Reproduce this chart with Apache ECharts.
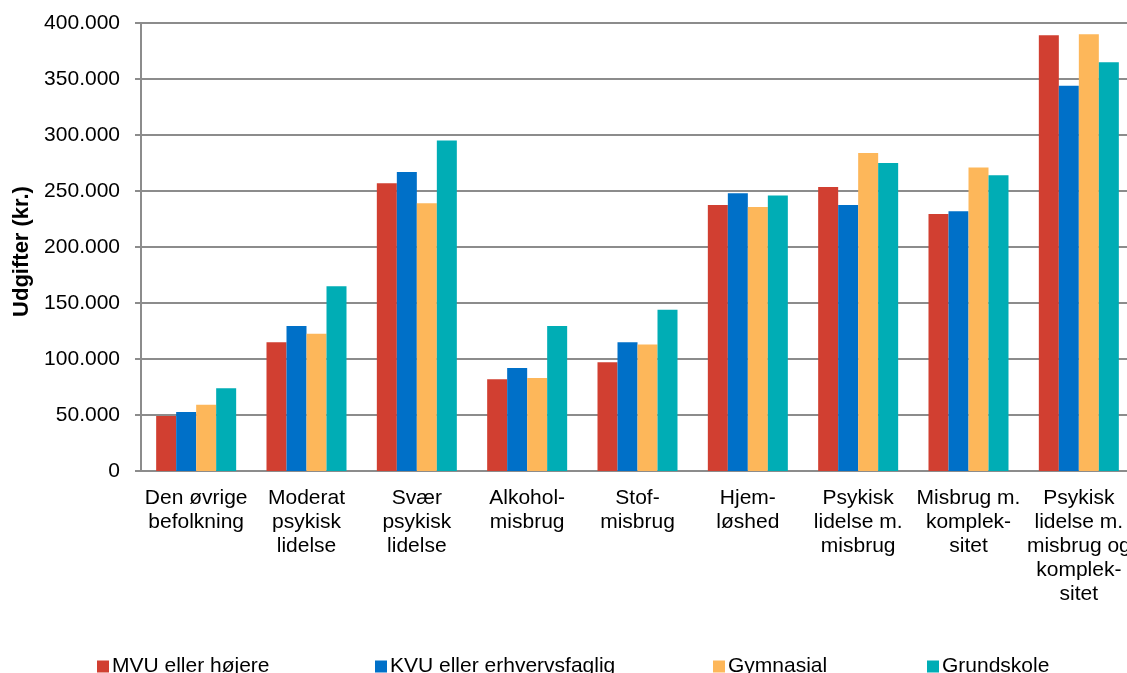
<!DOCTYPE html>
<html>
<head>
<meta charset="utf-8">
<script src="https://cdn.jsdelivr.net/npm/echarts@6/dist/echarts.min.js"></script>
<style>html,body{margin:0;padding:0;background:#fff;overflow:hidden}#c{width:1140px;height:673px}</style>
</head>
<body>
<div id="c"></div>
<script>
var categories = ["Den øvrige\nbefolkning","Moderat\npsykisk\nlidelse","Svær\npsykisk\nlidelse","Alkohol-\nmisbrug","Stof-\nmisbrug","Hjem-\nløshed","Psykisk\nlidelse m.\nmisbrug","Misbrug m.\nkomplek-\nsitet","Psykisk\nlidelse m.\nmisbrug og\nkomplek-\nsitet"];
var seriesNames = ["MVU eller højere","KVU eller erhvervsfaglig","Gymnasial","Grundskole"];
var mvu = [49000,115000,257000,82000,97000,237500,253500,229500,389000];
var kvu = [52700,129500,267000,92000,115000,248000,237500,232000,344000];
var gym = [59200,122500,239000,83000,113000,235700,284000,271000,390000];
var grund = [73800,165000,295000,129500,144000,246000,275000,264000,365000];
var yTicks = {min:0, max:400000, interval:50000};
var colors = ["#D13F31","#0070C8","#FDB75A","#00ADB5"];
var values = [mvu,kvu,gym,grund];

var chart = echarts.init(document.getElementById('c'));
var font = "'Liberation Sans', Arial, sans-serif";
var legendLefts = [92,370,708,922];
var legends = seriesNames.map(function(n,i){
  return {data:[n], left:legendLefts[i], top:651, itemWidth:12, itemHeight:12, itemGap:4,
    icon:'rect', textStyle:{fontFamily:font, fontSize:21, color:'#000', padding:[0,0,0,-2]}};
});
chart.setOption({
  animation:false,
  color:colors,
  grid:{left:141, width:993, top:23, bottom:202, containLabel:false},
  legend:legends,
  xAxis:{type:'category', data:categories,
    axisLine:{lineStyle:{color:'#8c8c8c', width:2}},
    axisTick:{show:false},
    axisLabel:{interval:0, fontFamily:font, fontSize:21, color:'#000', lineHeight:24, margin:15}},
  yAxis:{type:'value', min:yTicks.min, max:yTicks.max, interval:yTicks.interval,
    name:'Udgifter (kr.)', nameLocation:'middle', nameGap:108, nameRotate:90,
    nameTextStyle:{fontFamily:font, fontSize:22, fontWeight:'bold', color:'#000', padding:[0,9,0,0]},
    axisLine:{show:true, lineStyle:{color:'#8c8c8c', width:2}},
    axisTick:{show:true, length:6, lineStyle:{color:'#8c8c8c', width:2}},
    splitLine:{lineStyle:{color:'#8c8c8c', width:2}},
    axisLabel:{fontFamily:font, fontSize:21, color:'#000', margin:21,
      formatter:function(v){return v===0?'0':(v/1000).toFixed(0)+'.000';}}},
  series:values.map(function(d,i){
    return {type:'bar', name:seriesNames[i], data:d, barGap:'0%', barWidth:20,
      itemStyle:{color:colors[i]}};
  })
});
</script>
</body>
</html>
